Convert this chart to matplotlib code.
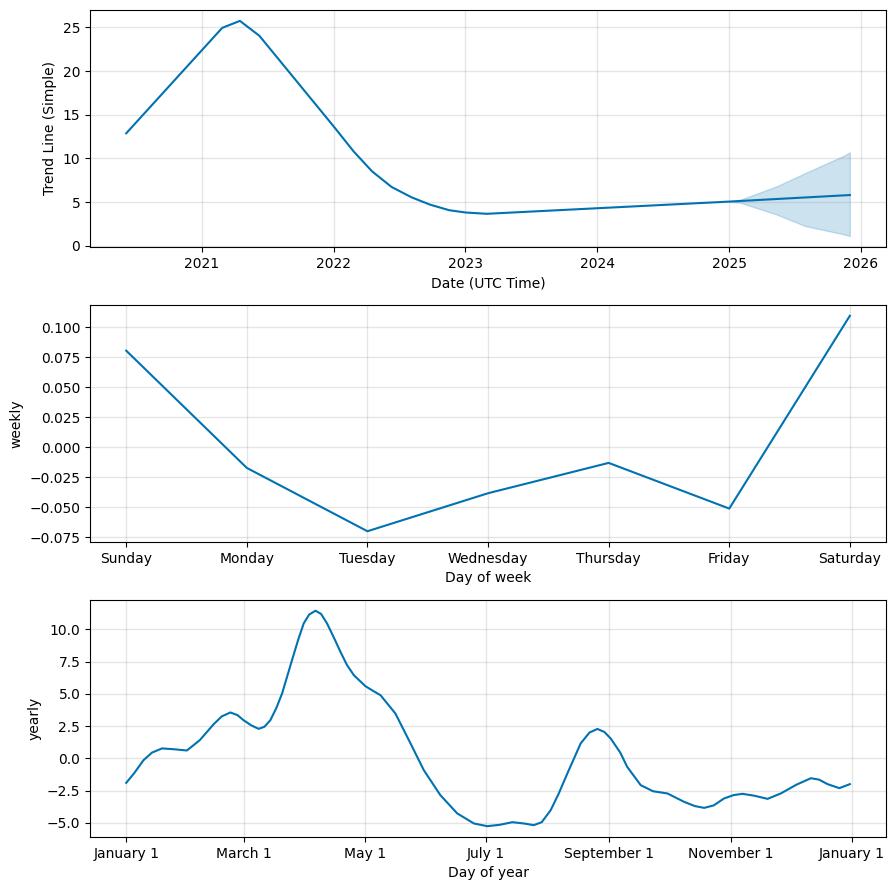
import numpy as np
import pandas as pd
import matplotlib
matplotlib.use("Agg")
import matplotlib.pyplot as plt
import matplotlib.dates as mdates

# trend component (piecewise linear)
trend_dates = pd.to_datetime(["2020-06-05", "2021-02-26", "2021-04-16", "2021-06-09",
                              "2022-01-01", "2022-02-25", "2022-04-17", "2022-06-10",
                              "2022-08-04", "2022-09-24", "2022-11-17", "2023-01-01",
                              "2023-03-01", "2025-01-01", "2025-12-01"])
trend_vals = [12.87, 24.95, 25.75, 24.04, 13.65, 10.8, 8.52, 6.73,
              5.55, 4.71, 4.06, 3.80, 3.65, 5.05, 5.80]

# uncertainty band on the forecast part
band_dates = pd.to_datetime(["2025-01-01", "2025-02-02", "2025-05-12", "2025-07-31",
                             "2025-11-14", "2025-12-01"])
band_upper = [5.05, 5.29, 6.8, 8.33, 10.3, 10.7]
band_lower = [5.05, 4.90, 3.57, 2.24, 1.30, 1.10]

# weekly component
days = ["Sunday", "Monday", "Tuesday", "Wednesday", "Thursday", "Friday", "Saturday"]
weekly_vals = [0.0806, -0.0172, -0.070, -0.0383, -0.013, -0.0511, 0.1097]

# yearly component (day of year offsets from Jan 1)
year_days = [0, 4, 8.7, 13, 18, 23.8, 30.5, 37, 44, 48, 52.4, 56, 59, 63, 66.6, 69.5, 72.5,
             75.5, 78.4, 83.4, 86.5, 89.3, 92, 95.2, 98, 101, 104.5, 107.8, 111, 114.5, 120.3,
             124, 127.9, 135.4, 143, 149.7, 158, 166.5, 174.9, 181.6, 188, 194.2, 200, 205,
             209, 213.5, 217.5, 221.9, 228.6, 233, 237, 240.5, 243.7, 248.5, 252, 258.8,
             265, 272.2, 280.6, 286, 290.7, 295.5, 300.7, 305.5, 310, 316, 322.6, 329.3,
             337, 344.4, 348.5, 352.8, 358.7, 364]
yearly_vals = [-1.90, -1.15, -0.14, 0.45, 0.77, 0.71, 0.61, 1.41, 2.65, 3.25, 3.56, 3.35,
               2.96, 2.55, 2.29, 2.45, 2.96, 3.90, 5.03, 7.62, 9.20, 10.47, 11.15, 11.45,
               11.20, 10.47, 9.35, 8.25, 7.25, 6.45, 5.60, 5.25, 4.90, 3.48, 1.16, -0.92,
               -2.85, -4.27, -5.05, -5.26, -5.15, -4.95, -5.05, -5.18, -4.95, -4.02, -2.75,
               -1.17, 1.16, 2.00, 2.28, 2.05, 1.54, 0.45, -0.66, -2.08, -2.55, -2.72, -3.37,
               -3.70, -3.84, -3.65, -3.11, -2.85, -2.75, -2.90, -3.14, -2.72, -2.05, -1.54,
               -1.65, -2.00, -2.31, -2.00]

color = "#0072B2"

fig, axes = plt.subplots(3, 1, figsize=(8.95, 8.9), dpi=100)
pos = [(0.1006, 0.7225), (0.1006, 0.391), (0.1006, 0.0596)]
for ax, (l, b) in zip(axes, pos):
    ax.set_position([l, b, 0.8894, 0.2663])

# trend
ax = axes[0]
ax.plot(trend_dates, trend_vals, ls="-", c=color)
ax.fill_between(band_dates, band_lower, band_upper, color=color, alpha=0.2)
ax.grid(True, which="major", c="gray", ls="-", lw=1, alpha=0.2)
ax.xaxis.set_major_locator(mdates.YearLocator())
ax.xaxis.set_major_formatter(mdates.DateFormatter("%Y"))
ax.set_ylim(-0.15, 27.0)
ax.set_xlabel("Date (UTC Time)")
ax.set_ylabel("Trend Line (Simple)")

# weekly
ax = axes[1]
ax.plot(range(len(days)), weekly_vals, ls="-", c=color)
ax.set_xticks(range(len(days)))
ax.set_xticklabels(days)
ax.grid(True, which="major", c="gray", ls="-", lw=1, alpha=0.2)
ax.set_xlabel("Day of week")
ax.set_ylabel("weekly")

# yearly
ax = axes[2]
ydates = pd.Timestamp("2017-01-01") + pd.to_timedelta(year_days, unit="D")
ax.plot(ydates, yearly_vals, ls="-", c=color)
ax.xaxis.set_major_locator(mdates.MonthLocator(range(1, 13), bymonthday=1, interval=2))
ax.xaxis.set_major_formatter(mdates.DateFormatter("%B %-d"))
ax.grid(True, which="major", c="gray", ls="-", lw=1, alpha=0.2)
ax.set_xlabel("Day of year")
ax.set_ylabel("yearly")

fig.savefig("out.png", dpi=100)
